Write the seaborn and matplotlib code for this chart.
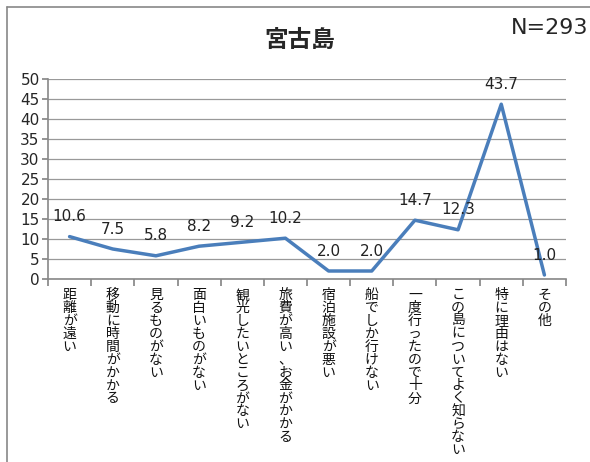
import matplotlib
matplotlib.use("Agg")
import matplotlib.pyplot as plt
from matplotlib.lines import Line2D
import seaborn as sns
import pandas as pd
import numpy as np

categories = ["距離が遠い", "移動に時間がかかる", "見るものがない", "面白いものがない",
              "観光したいところがない", "旅費が高い、お金がかかる", "宿泊施設が悪い",
              "船でしか行けない", "一度行ったので十分", "この島についてよく知らない",
              "特に理由はない", "その他"]
values = [10.6, 7.5, 5.8, 8.2, 9.2, 10.2, 2.0, 2.0, 14.7, 12.3, 43.7, 1.0]
yticks = [0, 5, 10, 15, 20, 25, 30, 35, 40, 45, 50]
title = "宮古島"
ntext = "N=293"

sns.set_theme(style="white")
plt.rcParams['font.family'] = ['DejaVu Sans', 'Noto Sans CJK JP']
cjk = ['Noto Sans CJK JP', 'DejaVu Sans']

fig = plt.figure(figsize=(5.9, 4.62), dpi=100)
ax = fig.add_axes([48/590, 1-279/462, 518/590, 200/462])

df = pd.DataFrame({"x": np.arange(len(values)), "v": values})
sns.lineplot(data=df, x="x", y="v", ax=ax, color="#4A7EBB", linewidth=2.5)

ax.set_xlim(-0.5, len(values) - 0.5)
ax.set_ylim(0, 50)
ax.set_yticks(yticks)
ax.set_yticklabels([str(t) for t in yticks], fontsize=11)
ax.yaxis.grid(True, color="#999999", linewidth=0.9)
ax.set_axisbelow(True)
for s in ["top", "right"]:
    ax.spines[s].set_visible(False)
for s in ["left", "bottom"]:
    ax.spines[s].set_color("#888888")
    ax.spines[s].set_linewidth(1.2)
ax.tick_params(axis="y", length=4, color="#888888", pad=2, left=True)
ax.set_xticks(np.arange(-0.5, len(values), 1.0))
ax.set_xticklabels([])
ax.tick_params(axis="x", length=5, color="#888888", bottom=True, direction="out")
ax.set_xlabel("")
ax.set_ylabel("")

for i, (c, v) in enumerate(zip(categories, values)):
    ax.annotate(f"{v:.1f}", (i, v), xytext=(0, 9), textcoords="offset points",
                ha="center", va="bottom", fontsize=11, color="#222222")
    ax.text(i, -2.3, "\n".join(c), ha="center", va="top", fontsize=10,
            linespacing=0.9, color="#111111", family=cjk, clip_on=False)

fig.text(300/590, 1-40/462, title, ha="center", va="center", fontsize=17,
         fontweight="bold", family=cjk)
fig.text(588/590, 1-28/462, ntext, ha="right", va="center", fontsize=16)

fig.add_artist(Line2D([7/590, 1], [1-7/462, 1-7/462], transform=fig.transFigure,
                      color="#888888", linewidth=1.2))
fig.add_artist(Line2D([7/590, 7/590], [0, 1-7/462], transform=fig.transFigure,
                      color="#888888", linewidth=1.2))

fig.savefig("out.png", dpi=100)
